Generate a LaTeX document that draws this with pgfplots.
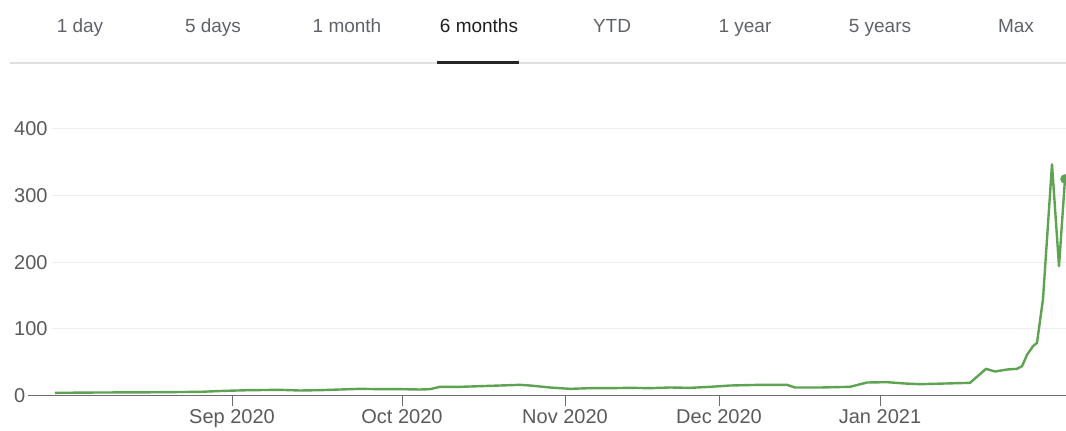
\documentclass[border=0pt]{standalone}
\usepackage{pgfplots}
\pgfplotsset{compat=1.18}
\usepackage{fontspec}
\setmainfont{Liberation Sans}
\definecolor{lg}{RGB}{94,163,82}
\definecolor{tabgray}{RGB}{95,99,104}
\definecolor{axgray}{RGB}{110,110,110}
\definecolor{gridc}{RGB}{238,238,238}
\definecolor{lblgray}{RGB}{90,90,90}
\begin{document}
\begin{tikzpicture}[x=1pt,y=1pt]
\useasboundingbox (0,0) rectangle (1066,431);
% tab bar
\foreach \cx/\t in {80/1 day,213/5 days,347/1 month,612/YTD,745/1 year,880/5 years,1016/Max}{
  \node[font=\fontsize{19}{22}\selectfont, text=tabgray, anchor=base, inner sep=0pt] at (\cx,398) {\t};
}
\node[font=\fontsize{19}{22}\selectfont, text=black!88, anchor=base, inner sep=0pt] at (479,398) {6 months};
\draw[color=black!12, line width=1.5pt] (10,368) -- (1066,368);
\draw[color=black!85, line width=3pt] (437,368) -- (519,368);
\begin{axis}[
  scale only axis,
  width=1014pt, height=266.5pt,
  at={(52pt,35.5pt)}, anchor=south west,
  xmin=52, xmax=1066, ymin=0, ymax=400,
  axis line style={draw=none},
  clip=false,
  ymajorgrids, grid style={color=gridc, line width=1pt},
  ytick={0,100,200,300,400},
  yticklabels={0,100,200,300,400},
  xtick={232,402,565,719,880},
  xticklabels={Sep 2020,Oct 2020,Nov 2020,Dec 2020,Jan 2021},
  tick align=outside,
  major tick length=11pt,
  xtick pos=bottom, ytick pos=left,
  xtick style={color=axgray, line width=0.8pt},
  ytick style={draw=none},
  xticklabel style={font=\fontsize{20}{24}\selectfont, text=lblgray, inner sep=0pt, yshift=-3pt},
  yticklabel style={font=\fontsize{20}{24}\selectfont, text=lblgray, inner sep=0pt, anchor=west, xshift=-27pt},
]
\draw[color=axgray, line width=1pt] (axis cs:28,0) -- (axis cs:1066,0);
\addplot[color=lg, line width=2.4pt, line join=round] coordinates {
(55,4) (100,4.5) (150,4.8) (200,5.5) (225,7) (250,8) (280,8.5) (300,7.5)
(320,8) (340,9) (360,10) (380,9.5) (400,9.5) (420,9) (430,9.5) (440,13)
(460,13) (480,14) (500,15) (520,16) (530,15) (550,12) (570,10) (590,11)
(610,11) (630,11.5) (650,11) (670,12) (690,11.5) (710,13) (730,15) (760,16)
(787,16) (795,12) (820,12) (850,13) (867,19.5) (887,20) (905,18) (920,17)
(945,18) (970,19) (986,40) (995,36) (1007,39) (1017,40) (1022,44) (1027,61)
(1033,74) (1037,79) (1043,145) (1052,347) (1059,194) (1065,325)
};
\addplot[only marks, mark=*, mark size=4.5pt, color=lg] coordinates {(1065,325)};
\end{axis}
\end{tikzpicture}
\end{document}
